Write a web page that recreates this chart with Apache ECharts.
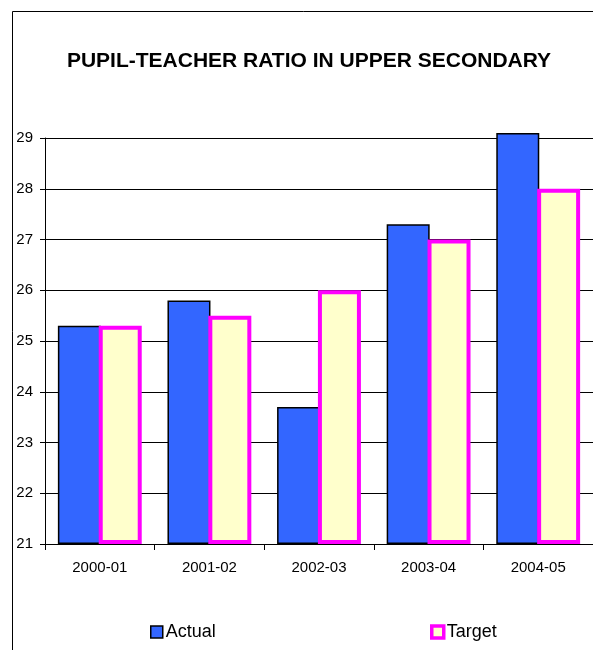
<!DOCTYPE html>
<html>
<head>
<meta charset="utf-8">
<script src="https://cdn.jsdelivr.net/npm/echarts@6/dist/echarts.min.js"></script>
<style>
  html, body { margin: 0; padding: 0; background: #fff; }
  #chart { width: 593px; height: 650px; }
</style>
</head>
<body>
<div id="chart"></div>
<script>
// chart data
var years = ['2000-01', '2001-02', '2002-03', '2003-04', '2004-05'];
var actual = [25.3, 25.8, 23.7, 27.3, 29.1];
var target = [25.3, 25.5, 26.0, 27.0, 28.0];
var yTicks = [21, 22, 23, 24, 25, 26, 27, 28, 29];

var font = 'Liberation Sans, Arial, sans-serif';
var yMin = yTicks[0];

// bars start at the axis minimum: stack them on an invisible base
var base = years.map(function () { return yMin; });
function above(arr) {
	return arr.map(function (v) { return +(v - yMin).toFixed(2); });
}

var actualStyle = { color: '#3366FF', borderColor: '#000', borderWidth: 1.5 };
var targetStyle = { color: '#FFFFCC', borderColor: '#FF00FF', borderWidth: 4 };

var chart = echarts.init(document.getElementById('chart'));

chart.setOption({
	animation: false,
	backgroundColor: '#fff',
	title: {
		text: 'PUPIL-TEACHER RATIO IN UPPER SECONDARY',
		left: 304,
		top: 46,
		textAlign: 'center',
		textStyle: { fontFamily: font, fontSize: 21, fontWeight: 'bold', color: '#000' }
	},
	graphic: [{
		type: 'rect',
		shape: { x: 12.5, y: 11.5, width: 640, height: 700 },
		style: { fill: 'none', stroke: '#000', lineWidth: 1 },
		silent: true
	}],
	legend: [{
		data: [{ name: 'Actual', itemStyle: actualStyle }],
		left: 150,
		top: 623,
		padding: 0,
		itemWidth: 12,
		itemHeight: 12,
		icon: 'rect',
		textStyle: { fontFamily: font, fontSize: 18, color: '#000', padding: [0, 0, 0, -2] }
	}, {
		data: [{ name: 'Target', itemStyle: { color: '#FFFFCC', borderColor: '#FF00FF', borderWidth: 3.5 } }],
		left: 430,
		top: 623,
		padding: 0,
		itemWidth: 12,
		itemHeight: 12,
		icon: 'rect',
		textStyle: { fontFamily: font, fontSize: 18, color: '#000', padding: [0, 0, 0, -2] }
	}],
	grid: { left: 45, top: 138, width: 553, height: 406 },
	xAxis: {
		type: 'category',
		data: years,
		axisLine: { lineStyle: { color: '#000', width: 1 } },
		axisTick: { show: true, length: 6, lineStyle: { color: '#000' } },
		axisLabel: { fontFamily: font, fontSize: 15, color: '#000', margin: 16 }
	},
	yAxis: {
		type: 'value',
		min: yMin,
		max: yTicks[yTicks.length - 1],
		interval: 1,
		axisLine: { show: true, lineStyle: { color: '#000', width: 1 } },
		axisTick: { show: true, length: 5, lineStyle: { color: '#000' } },
		axisLabel: { fontFamily: font, fontSize: 15, color: '#000', margin: 12 },
		splitLine: { show: true, lineStyle: { color: '#000', width: 1 } }
	},
	series: [{
		name: 'baseA',
		type: 'bar',
		stack: 'a',
		data: base,
		clip: false,
		barWidth: 43,
		barGap: '-5%',
		silent: true,
		itemStyle: { color: 'rgba(0,0,0,0)' }
	}, {
		name: 'Actual',
		type: 'bar',
		stack: 'a',
		data: above(actual),
		clip: false,
		barWidth: 43,
		barGap: '-5%',
		itemStyle: actualStyle
	}, {
		name: 'baseT',
		type: 'bar',
		stack: 't',
		data: base,
		clip: false,
		barWidth: 43,
		silent: true,
		itemStyle: { color: 'rgba(0,0,0,0)' }
	}, {
		name: 'Target',
		type: 'bar',
		stack: 't',
		data: above(target),
		clip: false,
		barWidth: 43,
		itemStyle: targetStyle
	}]
});
</script>
</body>
</html>
